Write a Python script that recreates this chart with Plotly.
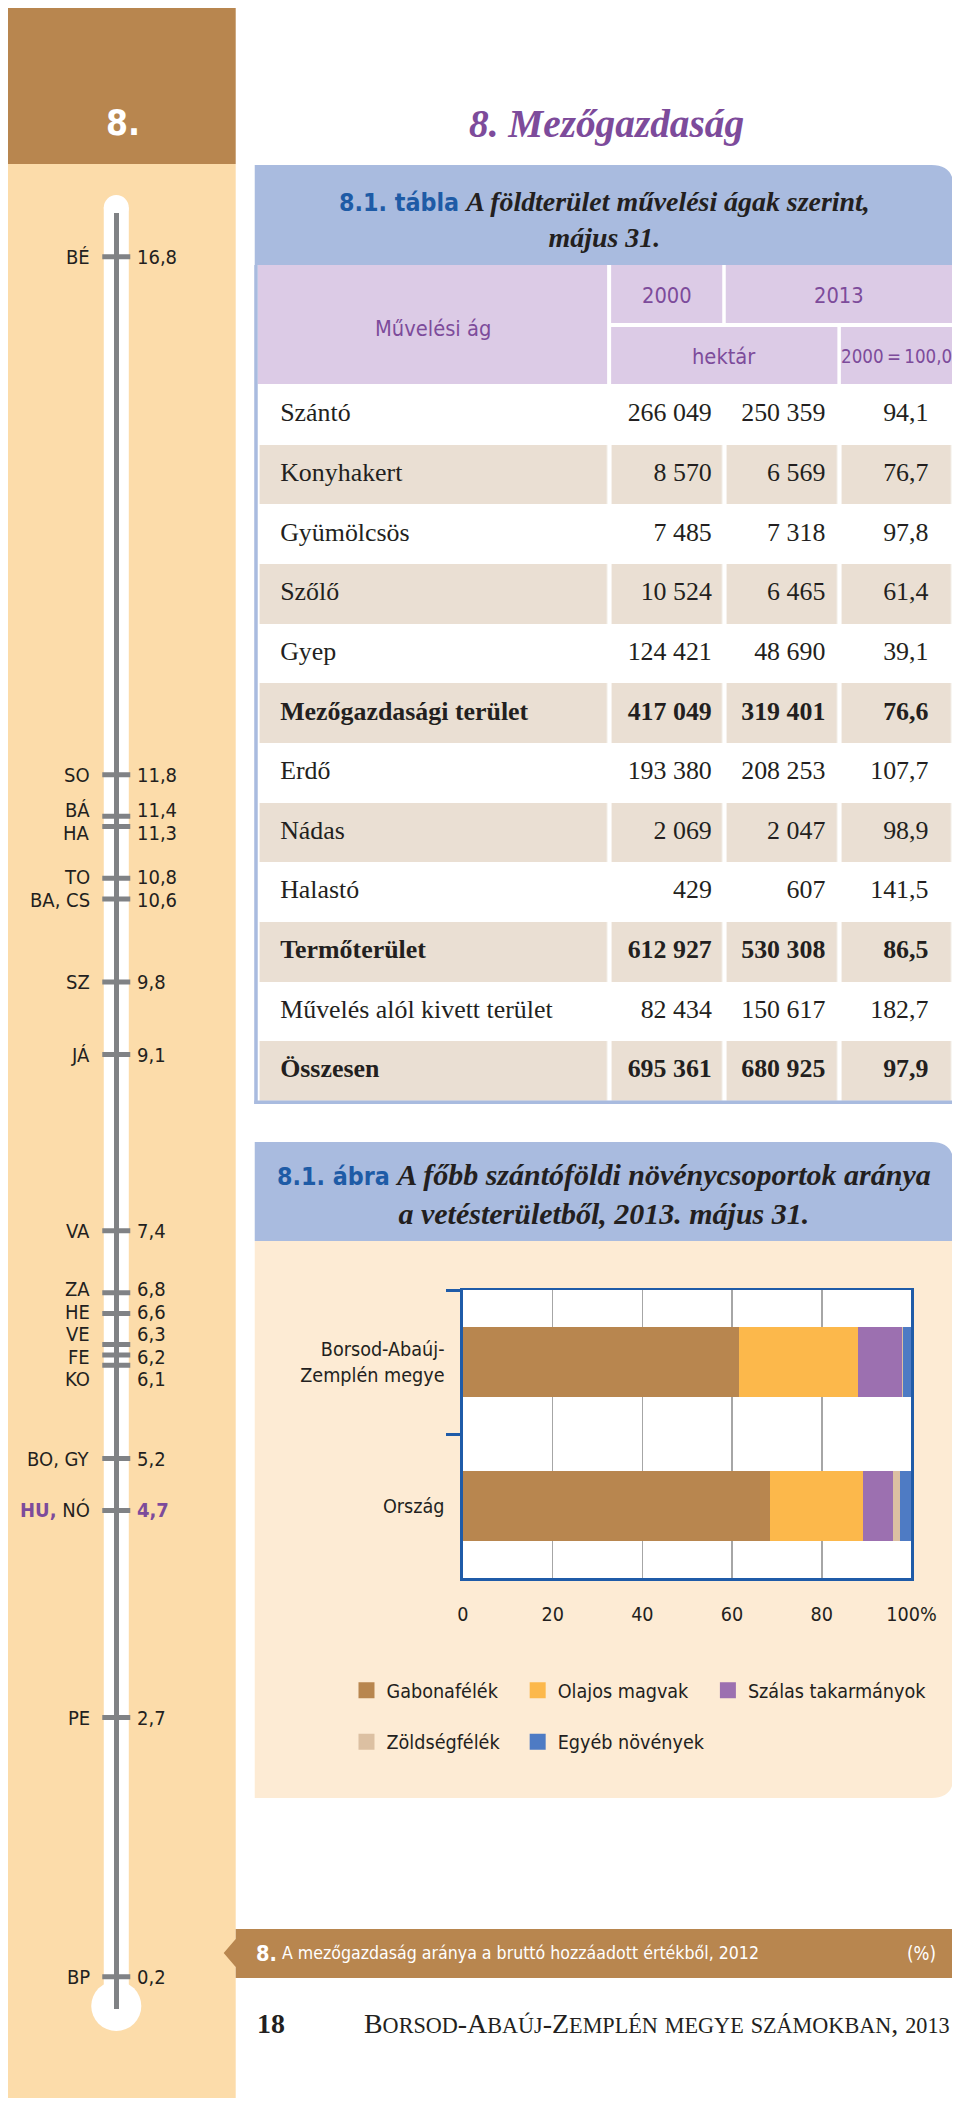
import itertools
import math
import plotly.graph_objects as go

# Reference layout is measured in a 960x2107 frame. The page is photographed
# slightly squeezed horizontally, so reference x-positions are mapped through
# a measured linear correction (SX, AX); y-positions map 1:1 inside the 8px body margin.
W, H = 960, 2107
OFF = 8
SX, AX = 0.967, 5.8
FW = int(math.ceil((952 - AX) / SX - OFF))
FH = H - 2 * OFF
FS = 1 / SX  # text widths get squeezed too, so enlarge type a little

# ---------------- data ----------------
county_codes = ["BÉ", "SO", "BÁ", "HA", "TO", "BA, CS", "SZ", "JÁ", "VA",
                "ZA", "HE", "VE", "FE", "KO", "BO, GY", "HU, NÓ", "PE", "BP"]
agri_share_2012 = [16.8, 11.8, 11.4, 11.3, 10.8, 10.6, 9.8, 9.1, 7.4,
                   6.8, 6.6, 6.3, 6.2, 6.1, 5.2, 4.7, 2.7, 0.2]
highlight_code = "HU"

land_categories = ["Szántó", "Konyhakert", "Gyümölcsös", "Szőlő", "Gyep",
                   "Mezőgazdasági terület", "Erdő", "Nádas", "Halastó",
                   "Termőterület", "Művelés alól kivett terület", "Összesen"]
hectares_2000 = [266049, 8570, 7485, 10524, 124421, 417049,
                 193380, 2069, 429, 612927, 82434, 695361]
hectares_2013 = [250359, 6569, 7318, 6465, 48690, 319401,
                 208253, 2047, 607, 530308, 150617, 680925]
index_2013 = [94.1, 76.7, 97.8, 61.4, 39.1, 76.6,
              107.7, 98.9, 141.5, 86.5, 182.7, 97.9]
subtotal_rows = ["Mezőgazdasági terület", "Termőterület", "Összesen"]

regions = ["Borsod-Abaúj-Zemplén megye", "Ország"]
region_labels = ["Borsod-Abaúj-<br>Zemplén megye", "Ország"]
crop_groups = ["Gabonafélék", "Olajos magvak", "Szálas takarmányok",
               "Zöldségfélék", "Egyéb növények"]
gabonafelek = [61.6, 68.5]
olajos_magvak = [26.5, 20.6]
szalas_takarmanyok = [9.7, 6.7]
zoldsegfelek = [0.4, 1.7]
egyeb_novenyek = [1.8, 2.5]
x_ticks = [0, 20, 40, 60, 80, 100]
x_tick_labels = ["0", "20", "40", "60", "80", "100%"]

# ---------------- styles ----------------
COND = "DejaVu Sans Condensed, DejaVu Sans, sans-serif"
SERIF = "Liberation Serif, DejaVu Serif, serif"
INK = "#231F20"
BROWN = "#B8864F"
BEIGE = "#FCDCAA"
CREAM = "#FDEBD4"
BAND = "#A9BBDF"
LAVENDER = "#DCCBE6"
SHADE = "#EADFD3"
PURPLE = "#7D4B9B"
TITLE_BLUE = "#1E5BA6"
FRAME_BLUE = "#1F5BA8"
GREY = "#808285"
crop_colors = ["#B8864F", "#FCB84B", "#9C70B0", "#DCC0A2", "#4E7BC4"]


def fs(n):
    return round(n * FS, 1)


def fx(x):
    return (x - AX) / SX - OFF


def PX(x):
    return fx(x) / FW


def PY(y):
    return 1 - (y - OFF) / FH


def hu_int(n):
    return f"{n:,}".replace(",", " ")


def hu_dec(x):
    return f"{x:.1f}".replace(".", ",")


shapes = []
annotations = []


def rect(x0, y0, x1, y1, color, layer="below"):
    shapes.append(dict(type="rect", xref="paper", yref="paper",
                       x0=PX(x0), x1=PX(x1), y0=PY(y1), y1=PY(y0),
                       fillcolor=color, line_width=0, layer=layer))


def circle(x0, y0, x1, y1, color):
    shapes.append(dict(type="circle", xref="paper", yref="paper",
                       x0=PX(x0), x1=PX(x1), y0=PY(y1), y1=PY(y0),
                       fillcolor=color, line_width=0, layer="below"))


def path(cmds, color, layer="below"):
    parts = []
    for c in cmds:
        letter, pts = c[0], c[1:]
        if letter == "Z":
            parts.append("Z")
        else:
            parts.append(letter + " " + " ".join(f"{PX(x):.6f},{PY(y):.6f}" for x, y in pts))
    shapes.append(dict(type="path", xref="paper", yref="paper", path=" ".join(parts),
                       fillcolor=color, line_width=0, layer=layer))


def band_round_top_right(x0, y0, x1, y1, r, color):
    path([("M", (x0, y1)), ("L", (x0, y0)), ("L", (x1 - r, y0)),
          ("Q", (x1, y0), (x1, y0 + r)), ("L", (x1, y1)), ("Z",)], color)


def panel_round_bottom_right(x0, y0, x1, y1, r, color):
    path([("M", (x0, y0)), ("L", (x1, y0)), ("L", (x1, y1 - r)),
          ("Q", (x1, y1), (x1 - r, y1)), ("L", (x0, y1)), ("Z",)], color)


def text(x, y, s, size, color=INK, family=COND, xanchor="center", **kw):
    annotations.append(dict(x=PX(x), y=PY(y), xref="paper", yref="paper", text=s,
                            showarrow=False, xanchor=xanchor, yanchor="middle",
                            font=dict(size=fs(size), color=color, family=family), **kw))


def small_caps(s, small):
    out = []
    for low, grp in itertools.groupby(s, key=lambda c: c.islower() or c.isdigit()):
        chunk = "".join(grp)
        out.append(f"<span style='font-size:{fs(small)}px'>{chunk.upper()}</span>" if low else chunk)
    return "".join(out)


fig = go.Figure()

# ================= left ruler (thermometer) =================
RULER_CX = 115.7
TOP_PX, TOP_V = 256.7, agri_share_2012[0]
PX_PER_UNIT = 103.61
LINE_TOP, LINE_BOT = 213, 2009
v_hi = TOP_V + (TOP_PX - LINE_TOP) / PX_PER_UNIT
v_lo = TOP_V - (LINE_BOT - TOP_PX) / PX_PER_UNIT

rect(6, 6, 235, 164, BROWN)
rect(6, 164, 235, 2098, BEIGE)
rect(RULER_CX - 12.5, 207.5, RULER_CX + 12.5, 2006, "white")
circle(RULER_CX - 12.5, 195, RULER_CX + 12.5, 220, "white")
circle(RULER_CX - 25, 1981, RULER_CX + 25, 2031, "white")
text(122, 122, "<b>8.</b>", 34, "white")

fig.add_trace(go.Scatter(
    x=[0] * len(agri_share_2012), y=agri_share_2012, mode="markers",
    marker=dict(symbol="line-ew", size=20, line=dict(width=5, color=GREY), color=GREY),
    xaxis="x", yaxis="y", showlegend=False, hoverinfo="skip"))

# de-overlap label positions (pixel space)
ys = [TOP_PX + (TOP_V - v) * PX_PER_UNIT for v in agri_share_2012]
GAP = 22.5
blocks = []
for i in range(len(ys)):
    blocks.append([i])
    while len(blocks) > 1:
        a, b = blocks[-2], blocks[-1]
        ca = sum(ys[j] for j in a) / len(a)
        cb = sum(ys[j] for j in b) / len(b)
        a_bot = ca + (len(a) - 1) * GAP / 2
        b_top = cb - (len(b) - 1) * GAP / 2
        if b_top - a_bot < GAP:
            blocks[-2:] = [a + b]
        else:
            break
label_px = [0] * len(ys)
for blk in blocks:
    c = sum(ys[j] for j in blk) / len(blk)
    top = c - (len(blk) - 1) * GAP / 2
    for k, j in enumerate(blk):
        label_px[j] = top + k * GAP

for code, v, yp, lp in zip(county_codes, agri_share_2012, ys, label_px):
    hl = code.startswith(highlight_code)
    if hl:
        head, tail = code.split(" ", 1)
        left = f"<span style='color:{PURPLE}'><b>{head}</b></span> {tail}"
        right = f"<span style='color:{PURPLE}'><b>{hu_dec(v)}</b></span>"
    else:
        left, right = code, hu_dec(v)
    for s, xx, anc in ((left, 90, "right"), (right, 135, "left")):
        annotations.append(dict(x=PX(xx), y=v, xref="paper", yref="y", text=s,
                                showarrow=False, xanchor=anc, yanchor="middle",
                                yshift=-(lp - yp), borderpad=0,
                                font=dict(size=20, color=INK, family=COND)))

# ================= title =================
text(605, 124, "<b><i>8. Mezőgazdaság</i></b>", 38, PURPLE, SERIF)

# ================= table =================
band_round_top_right(254, 165, 952, 265, 22, BAND)
text(603, 219,
     f"<span style='font-family:{COND};color:{TITLE_BLUE};font-size:{fs(24)}px'><b>8.1. tábla</b></span>"
     " <b><i>A földterület művelési ágak szerint,</i></b><br><b><i>május 31.</i></b>",
     27, INK, SERIF)
rect(257, 265, 606, 384, LAVENDER)
rect(610, 265, 721, 323, LAVENDER)
rect(724.5, 265, 952, 323, LAVENDER)
rect(610, 327, 836, 384, LAVENDER)
rect(839.5, 327, 952, 384, LAVENDER)
text(432, 328, "Művelési ág", 21, PURPLE)
text(666, 296, "2000", 21, PURPLE)
text(838, 296, "2013", 21, PURPLE)
text(723, 357, "hektár", 21, PURPLE)
text(895, 357, "2000\u2009=\u2009100,0", 18, PURPLE)
rect(253.5, 265, 257, 1104, BAND, layer="above")
rect(253.5, 1100.5, 952, 1104, BAND, layer="above")

COL_EDGES = [256.8, 608.7, 723.3, 837.8, 952]
nrows = len(land_categories)
shade_z = [[r % 2] * 4 for r in range(nrows)]
fig.add_trace(go.Heatmap(
    z=shade_z, x=COL_EDGES, y=list(range(nrows)),
    colorscale=[[0, "#FFFFFF"], [1, SHADE]], zmin=0, zmax=1, showscale=False,
    xgap=4.5, ygap=0, xaxis="x2", yaxis="y2", hoverinfo="skip"))


def b(s, row):
    return f"<b>{s}</b>" if land_categories[row] in subtotal_rows else s


rows = list(range(nrows))
text_font = dict(size=fs(25), color=INK, family=SERIF)
fig.add_trace(go.Scatter(
    x=[279.4] * nrows, y=rows, mode="text", textposition="middle right",
    text=[b(c, i) for i, c in enumerate(land_categories)], textfont=text_font,
    xaxis="x2", yaxis="y2", showlegend=False, hoverinfo="skip"))
for xr, vals, fmt in ((710.6, hectares_2000, hu_int), (824, hectares_2013, hu_int),
                      (927, index_2013, hu_dec)):
    fig.add_trace(go.Scatter(
        x=[xr] * nrows, y=rows, mode="text", textposition="middle left",
        text=[b(fmt(v), i) for i, v in enumerate(vals)], textfont=text_font,
        xaxis="x2", yaxis="y2", showlegend=False, hoverinfo="skip"))

# ================= chart =================
band_round_top_right(254, 1142, 952, 1241, 22, BAND)
panel_round_bottom_right(254, 1241, 952, 1798, 22, CREAM)
rect(462, 1290, 910, 1578, "white")
text(603, 1194,
     f"<span style='font-family:{COND};color:{TITLE_BLUE};font-size:{fs(24)}px'><b>8.1. ábra</b></span>"
     " <b><i>A főbb szántóföldi növénycsoportok aránya</i></b><br>"
     "<b><i>a vetésterületből, 2013. május 31.</i></b>",
     29, INK, SERIF)

series = [gabonafelek, olajos_magvak, szalas_takarmanyok, zoldsegfelek, egyeb_novenyek]
for name, vals, col in zip(crop_groups, series, crop_colors):
    fig.add_trace(go.Bar(y=regions, x=vals, orientation="h", name=name,
                         marker=dict(color=col, line_width=0),
                         xaxis="x3", yaxis="y3", showlegend=False, hoverinfo="skip"))

# one single-entry legend per crop group, laid out in the reference's 3 + 2 grid
legend_slots = [(365, 1690.5), (536, 1690.5), (726, 1690.5), (365, 1742), (536, 1742)]
legend_ids = ["legend"] + [f"legend{i}" for i in range(2, len(crop_groups) + 1)]
for name, col, lid in zip(crop_groups, crop_colors, legend_ids):
    fig.add_trace(go.Scatter(x=[None], y=[None], mode="markers", name=name,
                             marker=dict(symbol="square", size=20, color=col),
                             xaxis="x3", yaxis="y3", legend=lid, showlegend=True,
                             hoverinfo="skip"))

path([("M", (235, 1929)), ("L", (952, 1929)), ("L", (952, 1978)), ("L", (235, 1978)),
      ("L", (235, 1967)), ("L", (223, 1953)), ("L", (235, 1939)), ("Z",)], BROWN)
text(253, 1953, "<b>8.</b>", 21, "white", xanchor="left")
text(279, 1953, "A mezőgazdaság aránya a bruttó hozzáadott értékből, 2012", 17, "white",
     xanchor="left")
text(937, 1953, "(%)", 18, "white", xanchor="right")

text(254, 2023, "<b>18</b>", 27, INK, SERIF, xanchor="left")
text(950, 2023, small_caps("Borsod-Abaúj-Zemplén megye számokban, 2013", 21.5), 27, INK,
     SERIF, xanchor="right")

legend_common = dict(orientation="h", xanchor="left", yanchor="middle",
                     bgcolor="rgba(0,0,0,0)", borderwidth=0, traceorder="normal",
                     itemclick=False, itemdoubleclick=False,
                     font=dict(size=fs(19), color=INK, family=COND))
legend_layout = {lid: dict(x=(fx(cx) - 20) / FW, y=PY(cy), **legend_common)
                 for lid, (cx, cy) in zip(legend_ids, legend_slots)}

axis_font = dict(size=fs(19), color=INK, family=COND)
fig.update_layout(
    width=FW, height=FH, margin=dict(l=0, r=0, t=0, b=0),
    paper_bgcolor="white", plot_bgcolor="rgba(0,0,0,0)",
    hovermode=False, dragmode=False, barmode="stack", bargap=0.52,
    shapes=shapes, annotations=annotations,
    xaxis=dict(domain=[PX(RULER_CX - 100), PX(RULER_CX + 100)], range=[-1, 1],
               visible=False, fixedrange=True),
    yaxis=dict(domain=[PY(LINE_BOT), PY(LINE_TOP)], range=[v_lo, v_hi],
               anchor="free", position=PX(RULER_CX), showline=True, linecolor=GREY,
               linewidth=4.5, showgrid=False, zeroline=False, showticklabels=False,
               ticks="", fixedrange=True),
    xaxis2=dict(domain=[PX(COL_EDGES[0]), min(1, PX(COL_EDGES[-1]))],
                range=[COL_EDGES[0], COL_EDGES[-1]], visible=False, anchor="y2",
                fixedrange=True),
    yaxis2=dict(domain=[PY(1100.8), PY(385)], range=[nrows - 0.5, -0.5],
                visible=False, anchor="x2", fixedrange=True),
    xaxis3=dict(domain=[PX(462), PX(910)], range=[0, 100], anchor="y3",
                tickvals=x_ticks, ticktext=x_tick_labels, ticks="",
                showgrid=True, gridcolor="#A6A6A6", gridwidth=1.5, zeroline=False,
                showline=True, mirror=True, linecolor=FRAME_BLUE, linewidth=2.5,
                ticklabelstandoff=17, fixedrange=True, tickfont=axis_font),
    yaxis3=dict(domain=[PY(1578), PY(1290)], anchor="x3", type="category",
                categoryorder="array", categoryarray=regions, range=[1.5, -0.5],
                tickvals=regions, ticktext=region_labels,
                ticks="outside", tickson="boundaries", ticklen=14, tickwidth=3,
                tickcolor=FRAME_BLUE, showline=True, mirror=True, linecolor=FRAME_BLUE,
                linewidth=2.5, showgrid=False, zeroline=False, ticklabelstandoff=12,
                fixedrange=True, tickfont=axis_font),
    **legend_layout,
)

fig.write_html("out.html", config={"staticPlot": True, "displayModeBar": False})
